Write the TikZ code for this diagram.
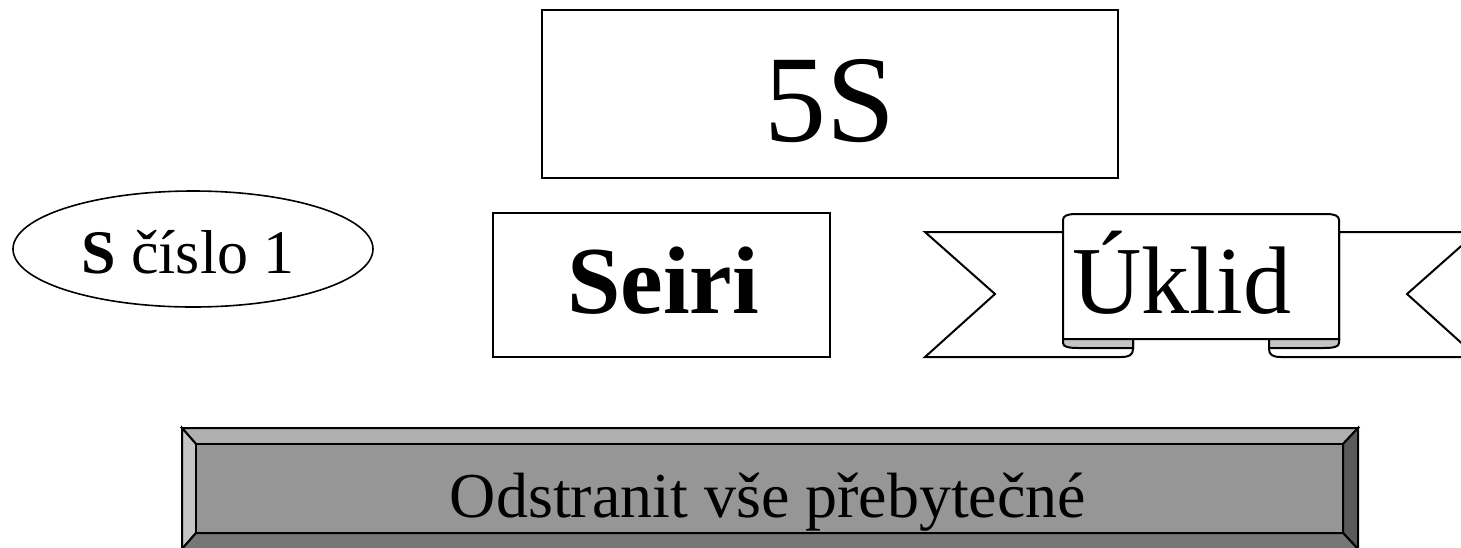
\documentclass[tikz,border=0pt]{standalone}
\usepackage{fontspec}
\setmainfont{Liberation Serif}
\usetikzlibrary{shapes.geometric}
\definecolor{foldgray}{HTML}{C4C4C4}
\definecolor{bvtop}{HTML}{B0B0B0}
\definecolor{bvleft}{HTML}{C4C4C4}
\definecolor{bvface}{HTML}{969696}
\definecolor{bvright}{HTML}{5A5A5A}
\definecolor{bvbottom}{HTML}{777777}
\begin{document}
\begin{tikzpicture}[x=1pt,y=-1pt,
  plainbox/.style={draw=black, line width=2.2pt, fill=white, rectangle, inner sep=0pt},
  oval/.style={draw=black, line width=1.6pt, ellipse, inner sep=0pt},
  rib/.style={draw=black, line width=2pt, line join=miter},
  bev/.style={draw=black, line width=2pt, line join=miter},
  txt/.style={inner sep=0pt, anchor=base, text=black}
]
\useasboundingbox (0,0) rectangle (1461,547);
\clip (0,0) rectangle (1461,547);

% 5S box
\node[plainbox, minimum width=576pt, minimum height=168pt] (fiveS) at (830,94) {};
\node[txt] (fiveStext) at (830,141) {\fontsize{124}{124}\selectfont 5S};

% S cislo 1 ellipse
\node[oval, minimum width=360pt, minimum height=116pt] (scislo) at (193,249) {};
\node[txt] (scislotext) at (188,273) {\fontsize{62}{62}\selectfont \textbf{S} číslo 1};

% Seiri box
\node[plainbox, line width=2pt, minimum width=337pt, minimum height=144pt] (seiri) at (661.5,285) {};
\node[txt] (seiritext) at (663,313) {\fontsize{96}{96}\selectfont\bfseries Seiri};

% Ribbon: tails
\draw[rib, fill=white] (1063,232) -- (925,232) -- (995,294) -- (925,357) -- (1121,357)
  .. controls (1129,357) and (1133,355) .. (1133,349) -- (1133,339) -- (1063,339) -- cycle;
\draw[rib, fill=white] (1339,232) -- (1477,232) -- (1407,294) -- (1477,357) -- (1281,357)
  .. controls (1273,357) and (1269,355) .. (1269,349) -- (1269,339) -- (1339,339) -- cycle;
% Ribbon: centre
\draw[rib, fill=white] (1063,339) -- (1063,220) .. controls (1063,216) and (1067,214) .. (1076,214)
  -- (1326,214) .. controls (1335,214) and (1339,216) .. (1339,220) -- (1339,339) -- cycle;
% Ribbon: folds
\draw[rib, fill=foldgray] (1063,339) -- (1133,339) -- (1133,348) -- (1079,348)
  .. controls (1069,348) and (1063,347) .. (1063,343) -- cycle;
\draw[rib, fill=foldgray] (1339,339) -- (1269,339) -- (1269,348) -- (1323,348)
  .. controls (1333,348) and (1339,347) .. (1339,343) -- cycle;
\node[txt] (uklid) at (1182,313) {\fontsize{96}{96}\selectfont Úklid};

% Bevel box
\draw[bev, fill=bvtop] (182,428) -- (1358,428) -- (1343,444) -- (196,444) -- cycle;
\draw[bev, fill=bvleft] (182,428) -- (196,444) -- (196,533) -- (182,549) -- cycle;
\draw[bev, fill=bvright] (1358,428) -- (1343,444) -- (1343,533) -- (1358,549) -- cycle;
\draw[bev, fill=bvbottom] (196,533) -- (1343,533) -- (1358,549) -- (182,549) -- cycle;
\node[draw=black, line width=2pt, fill=bvface, rectangle, inner sep=0pt,
  minimum width=1147pt, minimum height=89pt] (bevface) at (769.5,488.5) {};
\node[txt] (odstranit) at (768,517) {\fontsize{64}{64}\selectfont Odstranit vše přebytečné};
\end{tikzpicture}
\end{document}
